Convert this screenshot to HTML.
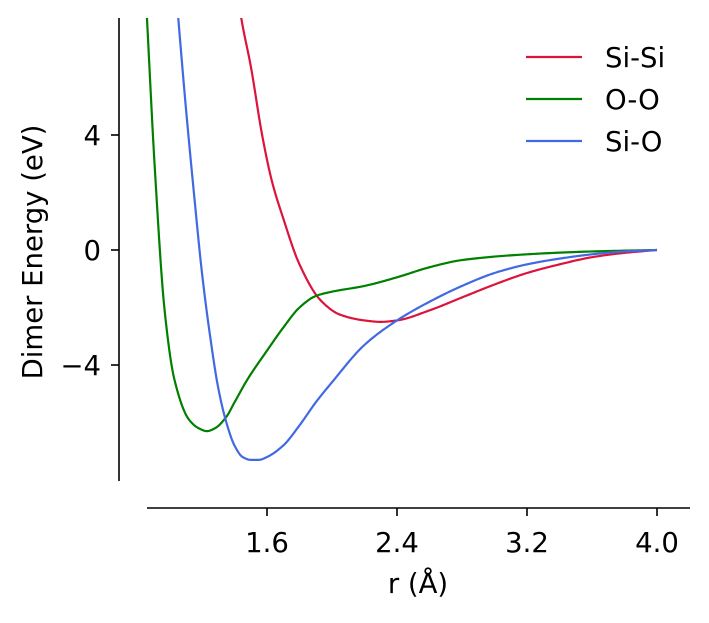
<!DOCTYPE html>
<html><head><meta charset="utf-8"><style>
body{margin:0;background:#fff}
text{font-family:"DejaVu Sans","Liberation Sans",sans-serif;fill:#000}
</style></head><body>
<svg id="chart" width="709" height="618" viewBox="0 0 709 618" xmlns="http://www.w3.org/2000/svg">
<defs><clipPath id="plotclip"><rect x="119" y="18" width="580" height="463"/></clipPath></defs>
<g id="axes"></g>
<g id="series" clip-path="url(#plotclip)"></g>
<g id="legend"></g>
</svg>
<script>
const xTicks=[1.6,2.4,3.2,4.0];
const xTickLabels=["1.6","2.4","3.2","4.0"];
const yTicks=[4,0,-4];
const yTickLabels=["4","0","\u22124"];
const seriesNames=["Si-Si","O-O","Si-O"];
const seriesColors=["#dc143c","#008000","#4169e1"];
const siSiR=[1.40,1.45,1.50,1.57,1.63,1.70,1.80,1.93,2.05,2.20,2.30,2.40,2.60,2.80,3.00,3.20,3.40,3.60,3.80,4.00];
const siSiE=[9.5,7.8,6.4,4.0,2.4,1.1,-0.5,-1.75,-2.25,-2.45,-2.5,-2.45,-2.1,-1.65,-1.2,-0.8,-0.5,-0.25,-0.1,0];
const ooR=[0.86,0.91,0.97,1.03,1.12,1.18,1.23,1.28,1.35,1.40,1.48,1.60,1.70,1.80,1.90,2.00,2.20,2.40,2.60,2.80,3.20,3.60,4.00];
const ooE=[8.2,2.8,-2.1,-4.5,-5.9,-6.2,-6.3,-6.2,-5.8,-5.3,-4.5,-3.5,-2.7,-2.0,-1.6,-1.45,-1.25,-0.95,-0.6,-0.35,-0.15,-0.05,0];
const siOR=[1.04,1.10,1.15,1.20,1.25,1.30,1.35,1.40,1.45,1.50,1.55,1.60,1.70,1.80,1.90,2.00,2.20,2.40,2.60,2.80,3.00,3.20,3.40,3.60,3.80,4.00];
const siOE=[9,5.0,2.0,-0.8,-3.0,-4.8,-6.0,-6.8,-7.2,-7.3,-7.3,-7.2,-6.8,-6.1,-5.3,-4.6,-3.3,-2.45,-1.8,-1.25,-0.8,-0.5,-0.3,-0.15,-0.05,0];

const NS="http://www.w3.org/2000/svg";
const xs=r=>267+(r-1.6)*162.5;
const ys=e=>250-e*28.75;
function mk(tag,attrs,parent){const el=document.createElementNS(NS,tag);for(const k in attrs)el.setAttribute(k,attrs[k]);parent.appendChild(el);return el;}
const FS=27.5;
const axes=document.getElementById('axes');
let l=mk('line',{x1:147,y1:508,x2:690,y2:508,stroke:'#000','stroke-width':1.6},axes);


l=mk('line',{x1:119,y1:18,x2:119,y2:481,stroke:'#000','stroke-width':1.6},axes);


xTicks.forEach((t,i)=>{
  const x=xs(t);
  const tk=mk('line',{x1:x,y1:508,x2:x,y2:516,stroke:'#000','stroke-width':1.6},axes);
  
  
  const tx=mk('text',{x:x,y:552,'text-anchor':'middle','font-size':FS},axes);
  tx.textContent=xTickLabels[i];
  
  
});
yTicks.forEach((t,i)=>{
  const y=ys(t);
  const tk=mk('line',{x1:111,y1:y,x2:119,y2:y,stroke:'#000','stroke-width':1.6},axes);
  
  
  const tx=mk('text',{x:101,y:y+10,'text-anchor':'end','font-size':FS},axes);
  tx.textContent=yTickLabels[i];
  
  
});
let t=mk('text',{x:418,y:593,'text-anchor':'middle','font-size':FS},axes);
t.textContent="r (Å)";


t=mk('text',{x:0,y:0,'text-anchor':'middle','font-size':FS,transform:'translate(42,252) rotate(-90)'},axes);
t.textContent="Dimer Energy (eV)";



function path(R,E){
  const n=R.length, h=[], d=[], m=new Array(n);
  for(let i=0;i<n-1;i++){h[i]=R[i+1]-R[i];d[i]=(E[i+1]-E[i])/h[i];}
  m[0]=d[0];m[n-1]=d[n-2];
  for(let i=1;i<n-1;i++){
    if(d[i-1]*d[i]<=0)m[i]=0;
    else{const w1=2*h[i]+h[i-1],w2=h[i]+2*h[i-1];m[i]=(w1+w2)/(w1/d[i-1]+w2/d[i]);}
  }
  let s=`M${xs(R[0])},${ys(E[0])}`;
  for(let i=0;i<n-1;i++){
    for(let k=1;k<=20;k++){
      const tt=k/20,t2=tt*tt,t3=t2*tt;
      const v=(2*t3-3*t2+1)*E[i]+(t3-2*t2+tt)*h[i]*m[i]+(-2*t3+3*t2)*E[i+1]+(t3-t2)*h[i]*m[i+1];
      s+=`L${xs(R[i]+tt*h[i]).toFixed(2)},${ys(v).toFixed(2)}`;
    }
  }
  return s;
}
const ser=document.getElementById('series');
const data=[[siSiR,siSiE],[ooR,ooE],[siOR,siOE]];
const names=['line-si-si','line-o-o','line-si-o'];
data.forEach((dd,i)=>{
  const p=mk('path',{d:path(dd[0],dd[1]),fill:'none',stroke:seriesColors[i],'stroke-width':2.2,'stroke-linejoin':'round'},ser);
  
  
});
const leg=document.getElementById('legend');
seriesNames.forEach((n,i)=>{
  const y=57+i*42;
  const ln=mk('line',{x1:526,y1:y,x2:582,y2:y,stroke:seriesColors[i],'stroke-width':2.2},leg);
  
  
  const tx=mk('text',{x:605,y:y+10,'font-size':FS},leg);
  tx.textContent=n;
  
  
});
</script>
</body></html>
